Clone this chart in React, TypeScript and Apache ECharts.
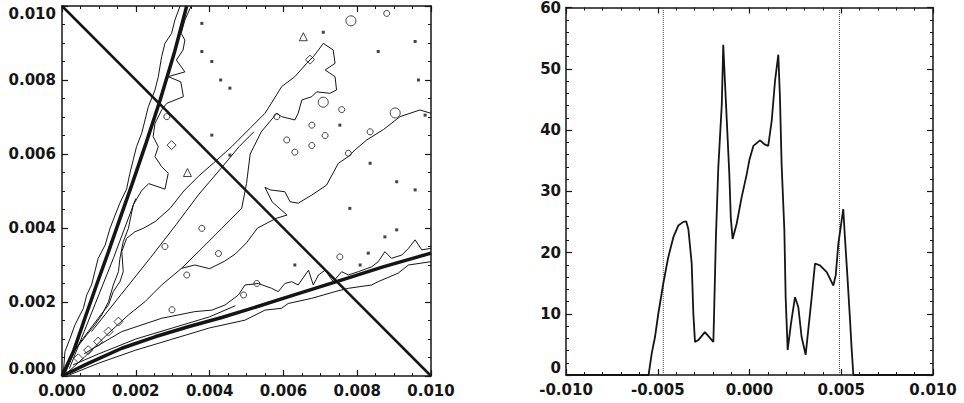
import React, { useEffect, useRef } from "react";
import * as echarts from "echarts";

// ---------- Left panel (contour map) ----------
const diagonalLine = [[0, 0.01], [0.01, 0]];

const steepThick = [
  [0, 0], [0.00031, 0.00066], [0.00062, 0.00156], [0.00095, 0.0025], [0.00126, 0.00336],
  [0.00158, 0.00428], [0.00189, 0.00516], [0.00228, 0.0063], [0.00266, 0.00746],
  [0.00304, 0.00872], [0.00338, 0.01],
];

const shallowThick = [
  [0, 0], [0.00071, 0.00034], [0.00162, 0.00075], [0.00252, 0.00106], [0.00342, 0.00133],
  [0.00433, 0.00158], [0.00505, 0.0018], [0.00625, 0.00218], [0.00744, 0.00255],
  [0.0087, 0.00295], [0.01, 0.00332],
];

const contourOuterLeft = [
  [0, 0], [0.00004, 0.00012], [0.00008, 0.00066], [0.00022, 0.00102], [0.00035, 0.00138],
  [0.00058, 0.00183], [0.00067, 0.00219], [0.0008, 0.00246], [0.00089, 0.00282],
  [0.00098, 0.00318], [0.00117, 0.00354], [0.0013, 0.00399], [0.00144, 0.00435],
  [0.00158, 0.0047], [0.00175, 0.00505], [0.00184, 0.00548], [0.00193, 0.00584],
  [0.00202, 0.0062], [0.00216, 0.00656], [0.00225, 0.00692], [0.00234, 0.00728],
  [0.00252, 0.00773], [0.00261, 0.00809], [0.0027, 0.00863], [0.00279, 0.00899],
  [0.00297, 0.00926], [0.00306, 0.00962], [0.0032, 0.01],
];

const contourSteepRight = [
  [0.0001, 0.0001], [0.00035, 0.0007], [0.00067, 0.00111], [0.00089, 0.00138],
  [0.00108, 0.00165], [0.00126, 0.00201], [0.00139, 0.00246], [0.00153, 0.00282],
  [0.00157, 0.00318], [0.00166, 0.00363], [0.0018, 0.00399], [0.00193, 0.00462],
  [0.00215, 0.005], [0.00235, 0.0052], [0.00279, 0.00505], [0.00288, 0.00548],
  [0.0027, 0.00566], [0.00252, 0.00593], [0.00261, 0.0062], [0.00247, 0.00647],
  [0.00252, 0.00683], [0.0027, 0.00719], [0.00284, 0.00737], [0.00329, 0.00755],
  [0.00322, 0.00795], [0.00288, 0.00809], [0.00333, 0.00822], [0.0031, 0.00854],
  [0.00328, 0.00881], [0.00333, 0.00908], [0.00323, 0.00926], [0.00333, 0.00962],
  [0.0035, 0.01],
];

const contourSteepInner = [
  [0.0002, 0.0002], [0.0006, 0.0012], [0.001, 0.0022], [0.0014, 0.0032],
  [0.0017, 0.004], [0.002, 0.0048],
];

const contourMiddleBand = [
  [0.00005, 0.0001], [0.00017, 0.00039], [0.00044, 0.00084], [0.00071, 0.0012],
  [0.00098, 0.00156], [0.00126, 0.00192], [0.00139, 0.00228], [0.00157, 0.00255],
  [0.00166, 0.00282], [0.00162, 0.00336], [0.00175, 0.00372], [0.00198, 0.0039],
  [0.0022, 0.00399], [0.00252, 0.00417], [0.00293, 0.00453], [0.0033, 0.005],
  [0.0037, 0.0054], [0.0041, 0.00575], [0.0046, 0.0062], [0.0051, 0.0067],
  [0.0055, 0.0071], [0.00573, 0.00746], [0.00595, 0.00782], [0.00631, 0.00809],
  [0.00663, 0.00845], [0.00681, 0.00863], [0.00695, 0.00881], [0.00708, 0.00899],
  [0.00735, 0.00881], [0.0074, 0.00845], [0.00713, 0.00827], [0.0074, 0.00809],
  [0.00744, 0.00773], [0.00726, 0.00764], [0.0069, 0.00768], [0.00677, 0.00755],
  [0.0065, 0.00746], [0.0064, 0.0071], [0.00631, 0.00692], [0.00595, 0.00701],
  [0.00582, 0.0071], [0.0054, 0.0066], [0.0051, 0.006], [0.005, 0.0052],
  [0.00487, 0.00453], [0.00433, 0.00399], [0.00379, 0.00345], [0.00324, 0.00291],
  [0.0027, 0.00246], [0.00225, 0.00201], [0.0018, 0.00165], [0.0012, 0.0011],
  [0.0006, 0.0005], [0.0001, 0.00005],
];

const contourMiddleInner = [
  [0.0008, 0.0012], [0.0016, 0.0022], [0.0024, 0.0032], [0.0031, 0.0041],
  [0.0037, 0.0049], [0.0043, 0.0056], [0.0048, 0.0062], [0.0052, 0.0066],
];

const contourUpperRight = [
  [0.00324, 0.00291], [0.0036, 0.003], [0.004, 0.0029], [0.0044, 0.0031],
  [0.0047, 0.0033], [0.005, 0.0036], [0.0053, 0.004], [0.0058, 0.00426],
  [0.0061, 0.00435], [0.0057, 0.0047], [0.0055, 0.0051], [0.00564, 0.00503],
  [0.00604, 0.00498], [0.00618, 0.00471], [0.0064, 0.00467], [0.00677, 0.00489],
  [0.00717, 0.00516], [0.00749, 0.00575], [0.00776, 0.00593], [0.00794, 0.00611],
  [0.00826, 0.00638], [0.00871, 0.00666], [0.00916, 0.00701], [0.0097, 0.00719],
  [0.01, 0.0071],
];

const contourLowerLobe = [
  [0.0006, 0.0006], [0.00162, 0.0012], [0.0027, 0.00156], [0.0036, 0.00174],
  [0.00406, 0.00178], [0.00442, 0.00192], [0.00478, 0.00219], [0.00496, 0.00246],
  [0.00532, 0.0025], [0.00568, 0.00237], [0.00586, 0.00228], [0.00604, 0.0025],
  [0.00622, 0.00255], [0.0064, 0.00246], [0.00659, 0.00273], [0.00668, 0.00286],
  [0.00681, 0.00246], [0.00695, 0.00273], [0.00713, 0.00286], [0.00735, 0.00255],
  [0.00758, 0.00282], [0.00776, 0.00273], [0.00803, 0.00282], [0.00839, 0.00295],
  [0.00857, 0.00309], [0.00875, 0.00336], [0.00893, 0.00318], [0.00921, 0.00327],
  [0.00939, 0.00345], [0.00957, 0.00368], [0.00975, 0.00341], [0.01, 0.00345],
];

const contourBelowShallow = [
  [0.0002, 0.00003], [0.001, 0.00035], [0.002, 0.0007], [0.003, 0.001], [0.004, 0.0013],
  [0.00496, 0.00151], [0.0055, 0.00178], [0.00595, 0.00183], [0.00613, 0.00196],
  [0.00677, 0.0021], [0.0074, 0.00228], [0.00776, 0.00237], [0.00839, 0.00246],
  [0.00857, 0.00255], [0.00911, 0.00278], [0.00939, 0.003], [0.01, 0.00309],
];

const contourAboveShallow = [
  [0.0003, 0.0003], [0.001, 0.0006], [0.002, 0.001], [0.003, 0.0013], [0.004, 0.0016],
  [0.0047, 0.0019],
];

const smallLoops = [
  [0.0088, 0.0098], [0.00758, 0.0072], [0.00835, 0.0066], [0.00713, 0.0065],
  [0.00677, 0.00623], [0.00631, 0.00605], [0.00609, 0.00638], [0.00677, 0.00678],
  [0.00582, 0.00701], [0.00776, 0.00602], [0.00284, 0.00701], [0.00379, 0.00399],
  [0.00279, 0.0035], [0.00338, 0.00273], [0.00298, 0.00179], [0.00424, 0.00331],
  [0.00492, 0.00219], [0.00753, 0.00322], [0.00528, 0.0025],
];

const largeLoops = [[0.00783, 0.0096], [0.00708, 0.0074], [0.00903, 0.00711]];

const diamondLoops = [
  [0.00044, 0.00048], [0.00071, 0.0007], [0.00098, 0.00093], [0.00126, 0.0012],
  [0.00153, 0.00147], [0.00297, 0.00624], [0.00672, 0.00855],
];

const triangleMarks = [[0.00654, 0.00917], [0.0034, 0.0055]];

const dots = [
  [0.00708, 0.00929], [0.00857, 0.00877], [0.00957, 0.00904], [0.00966, 0.008],
  [0.00835, 0.00575], [0.00907, 0.00525], [0.00957, 0.00503], [0.00753, 0.00678],
  [0.00379, 0.00953], [0.00379, 0.00877], [0.00406, 0.0085], [0.0043, 0.008],
  [0.00455, 0.00778], [0.00406, 0.00651], [0.00455, 0.00597], [0.0078, 0.00453],
  [0.00631, 0.003], [0.00808, 0.003], [0.0083, 0.00332], [0.00875, 0.00376],
  [0.00907, 0.00395], [0.00984, 0.00705],
];

// ---------- Right panel (profile) ----------
const profile = [
  [-0.01, 0], [-0.0055, 0], [-0.00533, 3.5], [-0.00515, 6.2], [-0.00497, 10],
  [-0.0047, 14.9], [-0.00443, 19.2], [-0.00415, 22.5], [-0.00388, 24.4], [-0.0036, 25.0],
  [-0.00345, 25.1], [-0.00333, 23.8], [-0.00315, 18.2], [-0.00306, 10], [-0.00297, 5.4],
  [-0.00279, 5.7], [-0.00243, 7.0], [-0.00197, 5.4], [-0.00193, 10], [-0.00183, 22.5],
  [-0.0017, 33.9], [-0.00151, 44.2], [-0.00143, 53.9], [-0.00133, 47.4], [-0.00121, 39.8],
  [-0.0011, 32.8], [-0.00102, 25.7], [-0.00092, 22.2], [-0.0007, 24.7], [-0.00043, 29],
  [-0.00015, 32.8], [0.0, 35.2], [0.00021, 37.4], [0.00057, 38.3], [0.00085, 37.6],
  [0.00102, 37.4], [0.00121, 41.5], [0.00139, 48], [0.00157, 52.3], [0.00166, 45.3],
  [0.00175, 34.4], [0.0019, 23.6], [0.00197, 12.7], [0.00208, 4.1], [0.00226, 8.4],
  [0.00248, 12.7], [0.00266, 11.1], [0.00284, 6.2], [0.00306, 3.3], [0.0032, 7.3],
  [0.00339, 12.7], [0.00357, 18.2], [0.00384, 17.9], [0.00421, 16.8], [0.00457, 14.6],
  [0.0047, 16.3], [0.00484, 21.4], [0.00502, 25.2], [0.00511, 27.1], [0.0052, 22.5],
  [0.00535, 15.4], [0.00548, 8.9], [0.00557, 4.1], [0.00566, 0], [0.01, 0],
];

const markerX = [-0.0047, 0.0049];
const profileYMax = 60;

const INK = "#151515";
const labelFont = {
  fontFamily: "DejaVu Sans",
  fontWeight: "bold" as const,
  fontSize: 15,
  color: INK,
};

function axisBase(min: number, max: number, interval: number, minorSplit: number) {
  return {
    type: "value" as const,
    min,
    max,
    interval,
    axisLine: { show: true, onZero: false, lineStyle: { color: INK, width: 1.5 } },
    axisTick: { show: true, inside: true, length: 6, lineStyle: { color: INK, width: 1.2 } },
    minorTick: { show: true, splitNumber: minorSplit, length: 3, lineStyle: { color: INK, width: 1 } },
    splitLine: { show: false },
    minorSplitLine: { show: false },
  };
}

function lineSeries(data: number[][], width: number, xi: number, yi: number, z = 2) {
  return {
    type: "line" as const,
    data,
    xAxisIndex: xi,
    yAxisIndex: yi,
    showSymbol: false,
    symbol: "none",
    silent: true,
    z,
    lineStyle: { color: INK, width },
  };
}

function markSeries(data: number[][], symbol: string, size: number, filled: boolean) {
  return {
    type: "scatter" as const,
    data,
    xAxisIndex: 0,
    yAxisIndex: 0,
    symbol,
    symbolSize: size,
    silent: true,
    z: 3,
    itemStyle: filled
      ? { color: INK }
      : { color: "rgba(0,0,0,0)", borderColor: INK, borderWidth: 1 },
  };
}

export default function App() {
  const ref = useRef<HTMLDivElement>(null);
  useEffect(() => {
    const chart = echarts.init(ref.current!, null, { renderer: "svg" });
    const fmt3 = (v: number) => v.toFixed(3);
    const option = {
      animation: false,
      backgroundColor: "#ffffff",
      grid: [
        { left: 62, top: 6, width: 369, height: 370 },
        { left: 566, top: 6, width: 367, height: 369 },
      ],
      xAxis: [
        {
          ...axisBase(0, 0.01, 0.002, 4),
          gridIndex: 0,
          position: "bottom",
          axisLabel: { show: true, margin: 7, formatter: fmt3, ...labelFont },
        },
        { ...axisBase(0, 0.01, 0.002, 4), gridIndex: 0, position: "top", axisLabel: { show: false } },
        {
          ...axisBase(-0.01, 0.01, 0.005, 5),
          gridIndex: 1,
          position: "bottom",
          axisLabel: { show: true, margin: 7, formatter: fmt3, ...labelFont },
        },
        { ...axisBase(-0.01, 0.01, 0.005, 5), gridIndex: 1, position: "top", axisLabel: { show: false } },
      ],
      yAxis: [
        {
          ...axisBase(0, 0.01, 0.002, 4),
          gridIndex: 0,
          position: "left",
          axisLabel: {
            show: true,
            margin: 6,
            formatter: fmt3,
            verticalAlignMaxLabel: "top",
            verticalAlignMinLabel: "bottom",
            ...labelFont,
          },
        },
        { ...axisBase(0, 0.01, 0.002, 4), gridIndex: 0, position: "right", axisLabel: { show: false } },
        {
          ...axisBase(0, profileYMax, 10, 5),
          gridIndex: 1,
          position: "left",
          axisLabel: {
            show: true,
            margin: 5,
            verticalAlignMinLabel: "bottom",
            ...labelFont,
          },
        },
        { ...axisBase(0, profileYMax, 10, 5), gridIndex: 1, position: "right", axisLabel: { show: false } },
      ],
      series: [
        lineSeries(contourOuterLeft, 1, 0, 0),
        lineSeries(contourSteepRight, 1, 0, 0),
        lineSeries(contourSteepInner, 1, 0, 0),
        lineSeries(contourMiddleBand, 1, 0, 0),
        lineSeries(contourMiddleInner, 1, 0, 0),
        lineSeries(contourUpperRight, 1, 0, 0),
        lineSeries(contourLowerLobe, 1, 0, 0),
        lineSeries(contourBelowShallow, 1, 0, 0),
        lineSeries(contourAboveShallow, 1, 0, 0),
        markSeries(smallLoops, "circle", 6, false),
        markSeries(largeLoops, "circle", 10, false),
        markSeries(diamondLoops, "diamond", 9, false),
        markSeries(triangleMarks, "triangle", 8, false),
        markSeries(dots, "rect", 3, true),
        lineSeries(steepThick, 3.5, 0, 0, 4),
        lineSeries(shallowThick, 3.5, 0, 0, 4),
        lineSeries(diagonalLine, 2.5, 0, 0, 4),
        ...markerX.map((x) => ({
          type: "line" as const,
          data: [[x, 0], [x, profileYMax]],
          xAxisIndex: 2,
          yAxisIndex: 2,
          showSymbol: false,
          symbol: "none",
          silent: true,
          lineStyle: { color: "#444", width: 1, type: "dotted" as const },
        })),
        lineSeries(profile, 1.8, 2, 2, 4),
      ],
    };
    chart.setOption(option as any);
    return () => chart.dispose();
  }, []);
  return (
    <div
      ref={ref}
      style={{ position: "fixed", left: 0, top: 0, width: 964, height: 403, background: "#fff" }}
    />
  );
}
